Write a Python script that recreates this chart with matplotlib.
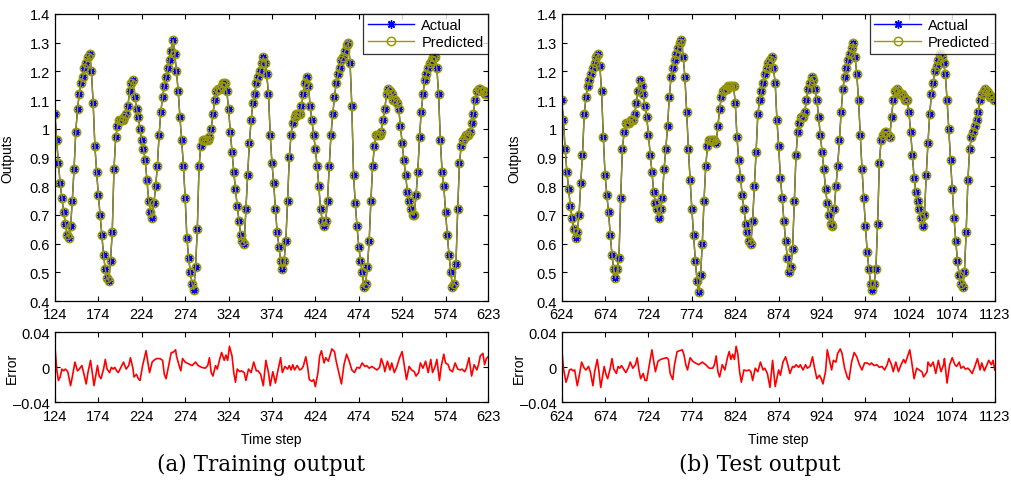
import numpy as np
import matplotlib
matplotlib.use('Agg')
import matplotlib.pyplot as plt
from matplotlib.ticker import FuncFormatter

plt.rcParams['font.family'] = ['Liberation Sans', 'DejaVu Sans']

# time steps (every 2nd step)
t_train = np.arange(124, 624, 2)
t_test = np.arange(624, 1124, 2)

# actual outputs, training part
y_train = [
    1.05, 0.96, 0.88, 0.81, 0.76, 0.71, 0.67, 0.63, 0.62, 0.66,
    0.75, 0.86, 0.99, 1.07, 1.12, 1.16, 1.18, 1.21, 1.23, 1.25,
    1.26, 1.20, 1.09, 0.94, 0.85, 0.77, 0.70, 0.63, 0.56, 0.51,
    0.48, 0.47, 0.54, 0.64, 0.86, 0.97, 1.01, 1.03, 1.03, 1.03,
    1.04, 1.05, 1.08, 1.13, 1.16, 1.17, 1.11, 1.07, 1.04, 1.00,
    0.96, 0.93, 0.89, 0.82, 0.75, 0.71, 0.69, 0.74, 0.80, 0.87,
    0.98, 1.06, 1.11, 1.15, 1.18, 1.21, 1.24, 1.27, 1.31, 1.26,
    1.20, 1.13, 1.04, 0.96, 0.87, 0.76, 0.62, 0.55, 0.50, 0.46,
    0.44, 0.52, 0.65, 0.87, 0.94, 0.96, 0.96, 0.96, 0.96, 0.97,
    1.00, 1.05, 1.10, 1.13, 1.14, 1.14, 1.15, 1.16, 1.16, 1.13,
    1.07, 0.99, 0.92, 0.85, 0.79, 0.73, 0.68, 0.63, 0.61, 0.60,
    0.72, 0.84, 0.95, 1.03, 1.09, 1.12, 1.16, 1.18, 1.20, 1.23,
    1.25, 1.23, 1.19, 1.12, 0.98, 0.88, 0.81, 0.72, 0.64, 0.59,
    0.54, 0.51, 0.54, 0.61, 0.75, 0.90, 0.98, 1.02, 1.04, 1.05,
    1.05, 1.05, 1.08, 1.12, 1.16, 1.18, 1.15, 1.08, 1.03, 0.98,
    0.93, 0.87, 0.80, 0.72, 0.68, 0.66, 0.68, 0.75, 0.87, 0.98,
    1.05, 1.11, 1.16, 1.19, 1.21, 1.24, 1.25, 1.27, 1.29, 1.30,
    1.23, 1.08, 0.84, 0.74, 0.66, 0.59, 0.54, 0.50, 0.45, 0.46,
    0.52, 0.61, 0.75, 0.87, 0.94, 0.98, 0.98, 0.98, 0.99, 1.03,
    1.07, 1.12, 1.14, 1.13, 1.12, 1.10, 1.10, 1.09, 1.07, 1.01,
    0.95, 0.89, 0.84, 0.78, 0.75, 0.72, 0.70, 0.70, 0.77, 0.85,
    0.97, 1.06, 1.12, 1.17, 1.19, 1.21, 1.23, 1.24, 1.25, 1.25,
    1.21, 1.12, 0.96, 0.85, 0.80, 0.71, 0.63, 0.56, 0.50, 0.45,
    0.46, 0.53, 0.72, 0.88, 0.94, 0.96, 0.97, 0.98, 0.98, 0.99,
    1.02, 1.05, 1.10, 1.13, 1.14, 1.14, 1.13, 1.13, 1.12, 1.12,
]

# actual outputs, test part
y_test = [
    1.10, 1.03, 0.93, 0.85, 0.79, 0.73, 0.69, 0.65, 0.62, 0.64,
    0.70, 0.81, 0.91, 1.05, 1.11, 1.15, 1.17, 1.19, 1.21, 1.23,
    1.25, 1.26, 1.22, 1.13, 0.97, 0.84, 0.77, 0.71, 0.63, 0.56,
    0.51, 0.48, 0.51, 0.55, 0.76, 0.93, 0.99, 1.02, 1.02, 1.02,
    1.03, 1.03, 1.05, 1.09, 1.13, 1.17, 1.15, 1.12, 1.08, 1.04,
    0.98, 0.91, 0.85, 0.78, 0.74, 0.72, 0.69, 0.72, 0.76, 0.86,
    0.93, 1.01, 1.11, 1.18, 1.21, 1.24, 1.26, 1.28, 1.30, 1.31,
    1.25, 1.18, 1.06, 0.93, 0.82, 0.72, 0.63, 0.54, 0.47, 0.43,
    0.49, 0.60, 0.75, 0.87, 0.94, 0.96, 0.96, 0.96, 0.96, 0.95,
    1.01, 1.07, 1.11, 1.13, 1.14, 1.14, 1.15, 1.15, 1.15, 1.15,
    1.09, 0.97, 0.89, 0.83, 0.77, 0.72, 0.67, 0.64, 0.61, 0.60,
    0.68, 0.80, 0.92, 1.05, 1.10, 1.13, 1.16, 1.19, 1.21, 1.23,
    1.24, 1.25, 1.21, 1.16, 1.03, 0.94, 0.83, 0.76, 0.68, 0.61,
    0.55, 0.50, 0.52, 0.58, 0.75, 0.91, 0.99, 1.02, 1.04, 1.04,
    1.06, 1.10, 1.14, 1.16, 1.18, 1.17, 1.14, 1.10, 1.04, 0.98,
    0.92, 0.86, 0.79, 0.74, 0.70, 0.67, 0.66, 0.72, 0.80, 0.87,
    0.96, 1.06, 1.14, 1.18, 1.21, 1.24, 1.26, 1.28, 1.30, 1.25,
    1.19, 1.10, 0.98, 0.86, 0.76, 0.66, 0.57, 0.51, 0.46, 0.44,
    0.46, 0.51, 0.67, 0.88, 0.96, 0.98, 0.99, 0.99, 0.98, 0.97,
    1.04, 1.10, 1.13, 1.14, 1.13, 1.12, 1.12, 1.11, 1.10, 1.10,
    1.06, 0.99, 0.91, 0.83, 0.78, 0.75, 0.72, 0.69, 0.66, 0.70,
    0.84, 0.95, 1.05, 1.12, 1.16, 1.20, 1.22, 1.24, 1.26, 1.25,
    1.23, 1.19, 1.10, 1.00, 0.89, 0.79, 0.69, 0.61, 0.54, 0.49,
    0.46, 0.45, 0.50, 0.64, 0.82, 0.93, 0.97, 0.99, 1.01, 1.03,
    1.06, 1.10, 1.12, 1.13, 1.14, 1.13, 1.12, 1.11, 1.11, 1.10,
]

# predicted outputs sit on top of the actual ones at this scale
p_train = y_train
p_test = y_test

# prediction error (step, value)
err_train = [
    (124, 0.023), (126, -0.002), (128, -0.015), (130, -0.011), (132, -0.002), (134, -0.004),
    (136, -0.002), (138, -0.004), (139, -0.006), (142, -0.021), (144, -0.011), (147, 0.006),
    (150, -0.004), (152, -0.002), (155, 0.002), (157, -0.006), (160, -0.019), (162, -0.006),
    (165, 0.008), (167, -0.006), (169, -0.021), (173, 0.002), (175, -0.010), (177, -0.013),
    (180, -0.002), (182, 0.009), (184, -0.002), (187, -0.006), (189, 0.000), (191, -0.002),
    (193, 0.000), (195, -0.004), (197, -0.006), (200, 0.000), (203, 0.006), (206, -0.002),
    (209, 0.002), (211, 0.011), (214, -0.002), (215, -0.011), (218, -0.008), (220, -0.013),
    (222, -0.015), (225, 0.002), (229, 0.019), (231, 0.006), (233, -0.006), (236, 0.006),
    (238, 0.008), (241, 0.010), (245, 0.010), (248, 0.008), (250, -0.008), (252, -0.013),
    (255, 0.002), (258, 0.017), (260, 0.017), (263, 0.020), (264, 0.013), (267, 0.002),
    (269, -0.004), (271, 0.010), (274, 0.006), (278, 0.004), (282, 0.002), (286, 0.006),
    (289, 0.002), (293, 0.000), (297, -0.001), (300, 0.002), (302, 0.011), (304, -0.006),
    (306, -0.010), (309, 0.002), (311, -0.002), (314, 0.010), (316, 0.017), (319, 0.008),
    (321, 0.014), (323, 0.008), (325, 0.024), (328, 0.013), (330, -0.006), (332, -0.017),
    (334, -0.002), (337, -0.005), (339, -0.004), (342, -0.006), (344, -0.015), (347, -0.002),
    (350, -0.006), (353, 0.006), (356, -0.004), (358, -0.004), (361, -0.008), (364, -0.021),
    (367, 0.008), (370, -0.006), (372, -0.021), (375, -0.005), (378, -0.018), (381, -0.003),
    (384, 0.011), (386, -0.006), (389, 0.001), (392, -0.002), (394, 0.002), (396, -0.003),
    (398, 0.003), (400, -0.003), (403, 0.002), (406, -0.003), (408, -0.002), (410, 0.001),
    (413, 0.012), (415, 0.001), (417, -0.014), (420, -0.016), (422, -0.014), (424, -0.022),
    (427, -0.006), (429, 0.013), (431, 0.019), (434, 0.005), (436, 0.011), (439, 0.007),
    (441, 0.014), (443, 0.021), (446, 0.018), (448, 0.007), (451, -0.006), (454, -0.019),
    (457, 0.003), (460, 0.015), (463, 0.007), (466, -0.003), (469, -0.006), (472, 0.000),
    (475, -0.001), (478, 0.005), (481, 0.001), (483, 0.002), (486, -0.001), (489, 0.001),
    (492, -0.001), (495, -0.003), (498, 0.000), (500, 0.010), (503, 0.001), (504, -0.005),
    (507, 0.007), (510, -0.003), (512, 0.005), (515, -0.006), (518, 0.001), (521, 0.011),
    (524, 0.018), (526, 0.005), (529, -0.014), (532, 0.001), (535, -0.003), (538, -0.005),
    (540, -0.010), (543, -0.006), (545, 0.005), (548, -0.001), (551, 0.007), (554, -0.006),
    (557, 0.009), (559, -0.006), (562, 0.001), (564, 0.009), (567, -0.015), (569, 0.001),
    (572, 0.015), (574, 0.005), (577, 0.003), (579, -0.003), (582, -0.005), (585, 0.005),
    (588, -0.002), (591, -0.003), (593, -0.002), (596, -0.005), (598, -0.001), (601, 0.011),
    (604, -0.010), (607, 0.003), (610, -0.003), (612, 0.003), (614, 0.013), (617, 0.016),
    (619, 0.003), (621, 0.010), (623, 0.012),
]

err_test = [
    (624, 0.023), (626, -0.001), (629, -0.017), (631, -0.011), (633, -0.003), (635, -0.002),
    (637, -0.004), (639, -0.003), (642, -0.021), (644, -0.011), (647, 0.006), (650, -0.001),
    (652, -0.003), (655, 0.001), (657, -0.005), (660, -0.021), (662, -0.005), (665, 0.009),
    (667, -0.005), (669, -0.023), (673, 0.001), (675, -0.008), (677, -0.013), (680, -0.001),
    (682, 0.010), (684, -0.002), (687, -0.007), (689, 0.001), (691, -0.001), (693, 0.002),
    (696, -0.003), (698, -0.006), (701, 0.000), (703, 0.006), (706, -0.001), (709, 0.003),
    (711, 0.011), (713, -0.003), (715, -0.013), (718, -0.007), (720, -0.015), (722, -0.015),
    (725, 0.003), (728, 0.020), (730, 0.007), (732, -0.005), (735, 0.007), (738, 0.009),
    (741, 0.010), (745, 0.011), (747, 0.009), (749, -0.007), (752, -0.014), (754, 0.003),
    (757, 0.018), (760, 0.019), (763, 0.020), (765, 0.014), (767, 0.003), (769, -0.003),
    (772, 0.011), (775, 0.007), (778, 0.005), (782, 0.003), (786, 0.006), (790, 0.003),
    (794, -0.001), (798, -0.001), (800, 0.003), (802, 0.013), (804, -0.005), (806, -0.011),
    (809, 0.003), (812, -0.003), (815, 0.011), (817, 0.018), (819, 0.009), (821, 0.015),
    (823, 0.009), (825, 0.024), (827, 0.015), (829, -0.005), (831, -0.017), (834, -0.003),
    (837, -0.004), (840, -0.003), (842, -0.005), (844, -0.015), (847, -0.001), (850, -0.005),
    (853, 0.006), (856, -0.003), (858, -0.001), (861, -0.007), (864, -0.023), (867, 0.008),
    (870, -0.022), (874, -0.003), (876, -0.009), (879, 0.006), (882, 0.012), (884, 0.005),
    (887, -0.007), (890, 0.001), (892, 0.000), (894, 0.003), (897, 0.000), (899, 0.003),
    (902, -0.003), (905, 0.003), (907, -0.001), (910, 0.001), (913, 0.012), (915, 0.001),
    (918, -0.013), (921, -0.009), (923, -0.013), (925, -0.019), (928, -0.005), (930, 0.020),
    (933, 0.006), (935, -0.003), (937, 0.008), (940, 0.006), (942, 0.016), (945, 0.021),
    (947, 0.016), (950, -0.001), (953, -0.011), (955, -0.014), (958, 0.006), (961, 0.017),
    (964, 0.012), (967, 0.003), (970, -0.003), (973, 0.005), (976, 0.005), (979, 0.003),
    (981, 0.005), (984, 0.002), (987, 0.003), (990, 0.000), (993, 0.001), (996, -0.003),
    (999, 0.003), (1001, 0.010), (1004, 0.003), (1006, -0.005), (1009, 0.006), (1012, -0.005),
    (1015, 0.003), (1018, 0.009), (1020, 0.005), (1023, 0.014), (1025, 0.020), (1027, 0.008),
    (1030, -0.013), (1033, -0.001), (1036, -0.003), (1039, -0.005), (1041, -0.011), (1045, -0.005),
    (1046, 0.006), (1049, 0.001), (1052, 0.006), (1055, -0.007), (1058, 0.008), (1061, -0.005),
    (1064, 0.003), (1065, 0.010), (1068, -0.018), (1071, 0.003), (1074, 0.011), (1077, 0.003),
    (1079, 0.001), (1082, 0.006), (1084, -0.001), (1087, 0.001), (1089, -0.002), (1092, -0.001),
    (1094, -0.003), (1097, -0.007), (1100, 0.001), (1103, 0.010), (1106, -0.003), (1108, 0.005),
    (1111, -0.004), (1114, 0.003), (1116, 0.008), (1119, 0.003), (1121, 0.008), (1123, -0.003),
]

xt_train = [124, 174, 224, 274, 324, 374, 424, 474, 524, 574, 623]
xt_test = [624, 674, 724, 774, 824, 874, 924, 974, 1024, 1074, 1123]
yt_out = [0.4, 0.5, 0.6, 0.7, 0.8, 0.9, 1.0, 1.1, 1.2, 1.3, 1.4]
yt_err = [-0.04, 0, 0.04]
captions = ['(a) Training output', '(b) Test output']

fs = 10.5   # tick labels
lfs = 10    # axis labels
fmt = FuncFormatter(lambda v, p: ('%g' % v).replace('-', '\u2013'))


def style(ax):
    ax.tick_params(direction='in', top=True, right=True, labelsize=fs, length=3.5,
                   width=0.8)
    ax.tick_params(axis='x', pad=4.5)
    ax.tick_params(axis='y', pad=3.5)
    for s in ax.spines.values():
        s.set_linewidth(0.9)


fig = plt.figure(figsize=(10.12, 4.81), dpi=100)

panels = [
    (0.0543, t_train, y_train, p_train, err_train, xt_train, captions[0], 0.258),
    (0.5550, t_test, y_test, p_test, err_test, xt_test, captions[1], 0.751),
]

for left, t, y, p, err, xt, cap, cx in panels:
    ax = fig.add_axes([left, 0.372, 0.428, 0.597])
    ax.plot(t, y, '-', color='blue', marker=(8, 2, 0), markersize=6, mew=1.0, lw=1.0,
            label='Actual')
    ax.plot(t, p, '-', color='#999900', marker='o', markersize=6, mfc='none', mew=1.1,
            lw=1.0, label='Predicted')
    ax.set_xlim(xt[0], xt[-1])
    ax.set_ylim(0.4, 1.4)
    ax.set_xticks(xt)
    ax.set_yticks(yt_out)
    ax.yaxis.set_major_formatter(fmt)
    ax.set_ylabel('Outputs', fontsize=lfs)
    ax.yaxis.set_label_coords(-0.093, 0.5)
    style(ax)
    leg = ax.legend(loc='upper right', fontsize=fs, frameon=True, fancybox=False,
                    borderpad=0.3, handlelength=3.2, labelspacing=0.2, borderaxespad=0.0,
                    handletextpad=0.5)
    leg.get_frame().set_edgecolor('black')
    leg.get_frame().set_linewidth(0.9)

    ex = fig.add_axes([left, 0.1615, 0.428, 0.1455])
    et, ev = zip(*err)
    ex.plot(et, ev, color='red', lw=1.2)
    ex.set_xlim(xt[0], xt[-1])
    ex.set_ylim(-0.04, 0.04)
    ex.set_xticks(xt)
    ex.set_yticks(yt_err)
    ex.yaxis.set_major_formatter(fmt)
    ex.set_ylabel('Error', fontsize=lfs)
    ex.yaxis.set_label_coords(-0.083, 0.5)
    ex.set_xlabel('Time step', fontsize=lfs)
    ex.xaxis.set_label_coords(0.5, -0.42)
    style(ex)

    fig.text(cx, 0.033, cap, ha='center', va='center', fontsize=15.5,
             family=['DejaVu Serif'])

fig.savefig('out.png', dpi=100)
